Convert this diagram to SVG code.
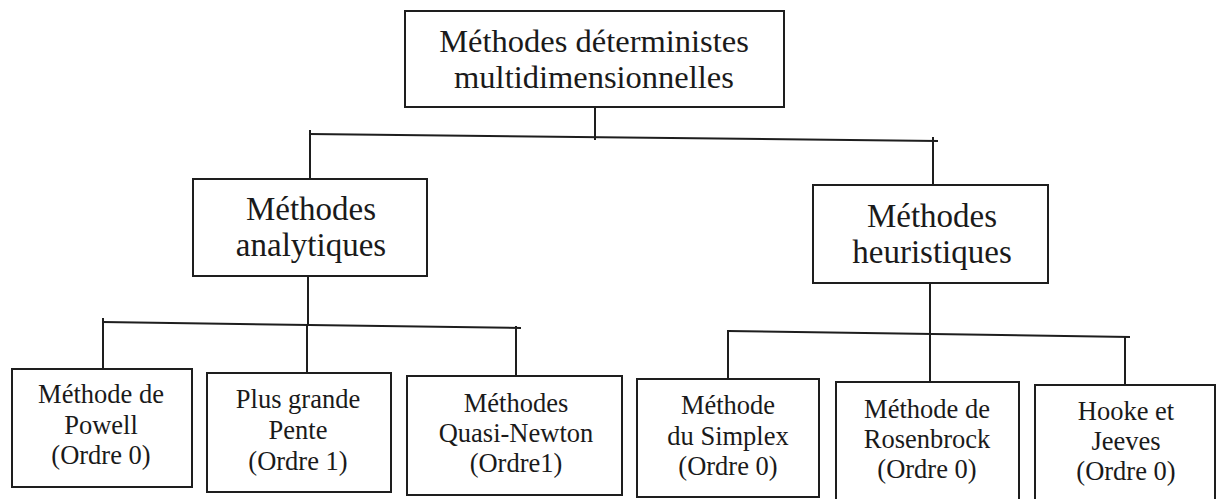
<svg xmlns="http://www.w3.org/2000/svg" width="1217" height="499" viewBox="0 0 1217 499">
  <style>
    .box { fill: #ffffff; stroke: #1e1e1e; stroke-width: 2; }
    .wire { fill: none; stroke: #1e1e1e; stroke-width: 2; stroke-linecap: square; }
    text { font-family: "Liberation Serif", "DejaVu Serif", serif; fill: #1a1a1a; text-anchor: middle; }
    .t1 { font-size: 32.5px; }
    .t2 { font-size: 33px; }
    .t3 { font-size: 26.5px; }
  </style>
  <rect width="1217" height="499" fill="#ffffff"/>

  <!-- tree connectors -->
  <g id="connectors">
    <!-- root to level 2 -->
    <path class="wire" d="M595 107 L595 139"/>
    <path class="wire" d="M310 134 L937 141"/>
    <path class="wire" d="M310 131 L310 179"/>
    <path class="wire" d="M933 138 L933 186"/>
    <!-- analytic branch -->
    <path class="wire" d="M308 276 L308 325"/>
    <path class="wire" d="M103 322 L520 328"/>
    <path class="wire" d="M103 319 L103 369"/>
    <path class="wire" d="M307 325 L307 373"/>
    <path class="wire" d="M516 327 L516 376"/>
    <!-- heuristic branch -->
    <path class="wire" d="M930 283 L930 334"/>
    <path class="wire" d="M728 331 L1129 337"/>
    <path class="wire" d="M728 331 L728 379"/>
    <path class="wire" d="M930 334 L930 382"/>
    <path class="wire" d="M1125 337 L1125 385"/>
  </g>

  <g id="root">
    <rect class="box" x="405" y="11" width="379" height="96"/>
    <text class="t1" x="594" y="52">Méthodes déterministes</text>
    <text class="t1" x="594" y="88">multidimensionnelles</text>
  </g>

  <g id="analytiques">
    <rect class="box" x="193" y="179" width="234" height="97"/>
    <text class="t2" x="311" y="220">Méthodes</text>
    <text class="t2" x="311" y="256">analytiques</text>
  </g>

  <g id="heuristiques">
    <rect class="box" x="813" y="185" width="235" height="98"/>
    <text class="t2" x="932" y="227">Méthodes</text>
    <text class="t2" x="932" y="263">heuristiques</text>
  </g>

  <g id="powell">
    <rect class="box" x="12" y="369" width="180" height="118"/>
    <text class="t3" x="101" y="403">Méthode de</text>
    <text class="t3" x="101" y="434">Powell</text>
    <text class="t3" x="101" y="464">(Ordre 0)</text>
  </g>

  <g id="plus-grande-pente">
    <rect class="box" x="207" y="373" width="184" height="119"/>
    <text class="t3" x="298" y="408">Plus grande</text>
    <text class="t3" x="298" y="439">Pente</text>
    <text class="t3" x="298" y="470">(Ordre 1)</text>
  </g>

  <g id="quasi-newton">
    <rect class="box" x="407" y="376" width="215" height="119"/>
    <text class="t3" x="516" y="412">Méthodes</text>
    <text class="t3" x="516" y="442">Quasi-Newton</text>
    <text class="t3" x="516" y="472">(Ordre1)</text>
  </g>

  <g id="simplex">
    <rect class="box" x="637" y="379" width="182" height="118"/>
    <text class="t3" x="728" y="414">Méthode</text>
    <text class="t3" x="728" y="445">du Simplex</text>
    <text class="t3" x="728" y="475">(Ordre 0)</text>
  </g>

  <g id="rosenbrock">
    <rect class="box" x="836" y="382" width="183" height="122"/>
    <text class="t3" x="927" y="418">Méthode de</text>
    <text class="t3" x="927" y="448">Rosenbrock</text>
    <text class="t3" x="927" y="478">(Ordre 0)</text>
  </g>

  <g id="hooke-jeeves">
    <rect class="box" x="1035" y="385" width="180" height="120"/>
    <text class="t3" x="1126" y="420">Hooke et</text>
    <text class="t3" x="1126" y="450">Jeeves</text>
    <text class="t3" x="1126" y="480">(Ordre 0)</text>
  </g>
</svg>
